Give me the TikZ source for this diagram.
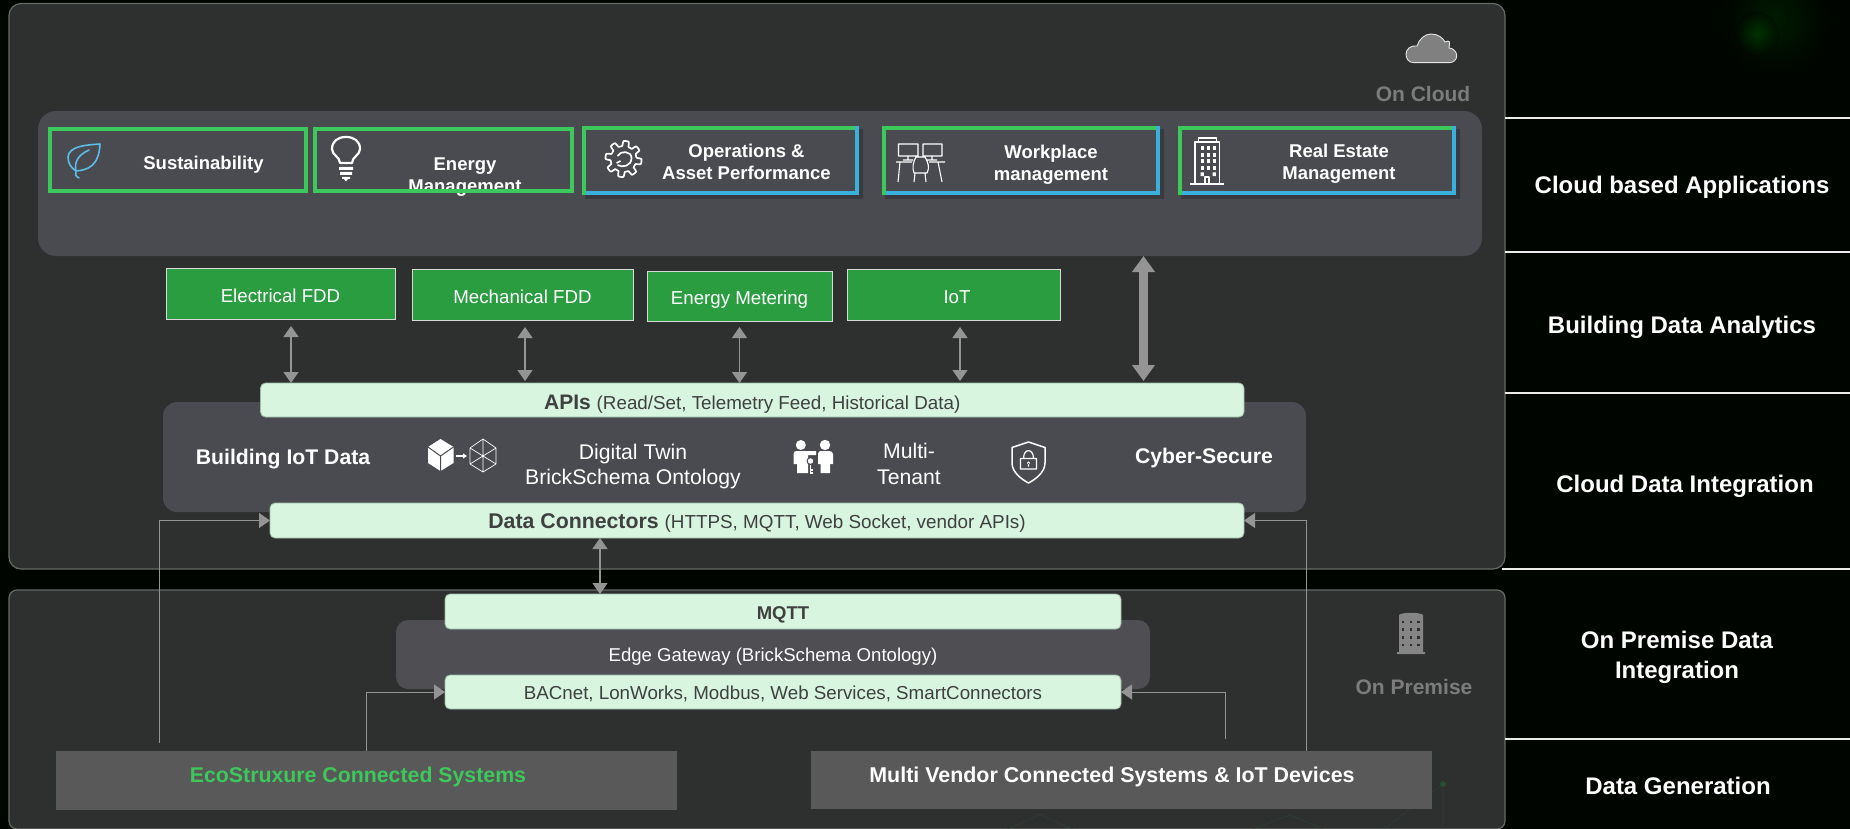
\documentclass[tikz,border=0pt]{standalone}
\usepackage{fontspec}
\setmainfont{Liberation Sans}
\usetikzlibrary{arrows.meta,calc}
\definecolor{bgc}{HTML}{000500}
\definecolor{panelc}{HTML}{2E2F2F}
\definecolor{panelb}{HTML}{686A6A}
\definecolor{appc}{HTML}{4A4B50}
\definecolor{edgec}{HTML}{4E4E53}
\definecolor{greenb}{HTML}{3CC85A}
\definecolor{blueb}{HTML}{3AB0DC}
\definecolor{fddc}{HTML}{2A9D41}
\definecolor{barc}{HTML}{D8F5DF}
\definecolor{bart}{HTML}{3F4040}
\definecolor{srcc}{HTML}{595959}
\definecolor{arrc}{HTML}{949494}
\definecolor{dimt}{HTML}{7C7C7C}
\definecolor{leafc}{HTML}{5BBDE8}
\definecolor{glowc}{HTML}{2C4A32}
\newcommand\fz[2]{\fontsize{#1}{#2}\selectfont}
% name, style, x0, y0, x1, y1, text
\newcommand\boxn[7]{\node[#2,minimum width={(#5-#3)*1pt},minimum height={(#6-#4)*1pt}] (#1) at ({(#3+#5)/2},{(#4+#6)/2}) {#7};}
\tikzset{
  x=1pt,y=-1pt,
  shapebox/.style={inner sep=0pt,outer sep=0pt,draw=none},
  panel/.style={shapebox,fill=panelc,draw=panelb,line width=1.2pt,rounded corners=12pt},
  appgroup/.style={shapebox,fill=appc,rounded corners=18pt},
  midgroup/.style={shapebox,fill=appc,rounded corners=14pt},
  edgegroup/.style={shapebox,fill=edgec,rounded corners=12pt},
  appbox/.style={shapebox,fill=appc},
  fdd/.style={shapebox,fill=fddc,draw=white!85!black,line width=1pt,text=white,font=\fz{18.7}{22},text height=17pt,text depth=0pt},
  bar/.style={shapebox,fill=barc,draw=black!25!barc,line width=.8pt,rounded corners=5pt,text=bart,text depth=0pt},
  src/.style={shapebox,fill=srcc},
  lbl/.style={inner sep=0pt,outer sep=0pt,align=center,text=white},
  applbl/.style={lbl,font=\fz{18.5}{22}\bfseries},
  sidelbl/.style={lbl,font=\fz{24}{29.5}\bfseries},
  midlbl/.style={lbl,font=\fz{21.2}{25.5}},
  midblbl/.style={lbl,font=\fz{21.2}{26}\bfseries},
  dimlbl/.style={lbl,text=dimt,font=\fz{21}{25}\bfseries},
  gb/.style={draw=greenb,line width=4pt},
  bb/.style={draw=blueb,line width=4pt},
  sep/.style={draw=white!92!black,line width=2pt},
  dblarr/.style={draw=arrc,line width=1.2pt,{Triangle[length=11pt,width=15pt]}-{Triangle[length=11pt,width=15pt]}},
  bigarr/.style={draw=arrc,line width=9pt,{Triangle[length=16pt,width=22pt]}-{Triangle[length=16pt,width=22pt]}},
  feed/.style={draw=arrc,line width=1pt,-{Triangle[length=11pt,width=15pt]}},
  iconw/.style={draw=white,line width=1.5pt,line join=round,fill=none},
  glow/.style={draw=glowc,line width=1pt,opacity=.45}
}
\begin{document}
\begin{tikzpicture}
\useasboundingbox (0,0) rectangle (1850,829);
\fill[bgc] (0,0) rectangle (1850,830);
\shade[inner color=green!30!black,outer color=bgc,opacity=.3] (1775,20) circle (55);
\shade[inner color=green!38!black,outer color=bgc,opacity=.4] (1757,34) circle (22);
% panels
\boxn{cloudp}{panel}{9}{3.5}{1505}{569}{}
\boxn{premp}{panel,rounded corners=8pt}{9}{590}{1505}{829}{}
% faint glow in the panel
\draw[glow] (1443,784) -- (1443,830) (1443,784) -- (1383,830);
\draw[glow] (1290,815) -- (1250,830) (1290,815) -- (1325,830) (1005,830) -- (1040,815) -- (1075,830);
\fill[glowc] (1443,784) circle (3);
% separators
\draw[sep] (1505,118.5) -- (1850,118.5);
\draw[sep] (1505,252) -- (1850,252);
\draw[sep] (1505,393) -- (1850,393);
\draw[sep] (1502,569) -- (1850,569);
\draw[sep] (1505,739) -- (1850,739);
% side labels
\node[sidelbl] (s1) at (1682,187.5) {Cloud based Applications};
\node[sidelbl] (s2) at (1682,327) {Building Data Analytics};
\node[sidelbl] (s3) at (1685,486) {Cloud Data Integration};
\node[sidelbl] (s4) at (1677,657.5) {On Premise Data\\Integration};
\node[sidelbl] (s5) at (1678,786) {Data Generation};
% application group
\boxn{appg}{appgroup}{38}{111}{1482}{256}{}
\fill[black,opacity=.22] (585,129) rectangle (863,199) (885,129) rectangle (1164,199) (1181,129) rectangle (1460,199);
\boxn{a1}{appbox}{47.5}{127}{307.5}{193}{}
\boxn{a2}{appbox}{313}{127}{574}{193}{}
\boxn{a3}{appbox}{582}{126}{859}{195}{}
\boxn{a4}{appbox}{882}{126}{1160}{195}{}
\boxn{a5}{appbox}{1178}{126}{1456}{195}{}
\node[applbl] (t1) at (203.5,165) {Sustainability};
\node[applbl] (t2a) at (465,166) {Energy};
\node[applbl] (t2b) at (465,188) {Management};
\node[applbl] (t3) at (746.5,161.5) {Operations \&\\Asset Performance};
\node[applbl] (t4) at (1051,165) {Workplace\\management};
\node[applbl] (t5) at (1339,164) {Real Estate\\Management};
\draw[gb] (49.5,129) rectangle (305.5,191);
\draw[gb] (315,129) rectangle (572,191);
\draw[gb] (584,195) -- (584,128) -- (857,128);
\draw[bb] (857,126) -- (857,195) (857,193) -- (586,193);
\draw[gb] (884,195) -- (884,128) -- (1158,128);
\draw[bb] (1158,126) -- (1158,195) (1158,193) -- (886,193);
\draw[gb] (1180,195) -- (1180,128) -- (1454,128);
\draw[bb] (1454,126) -- (1454,195) (1454,193) -- (1182,193);
% analytics
\boxn{fdd1}{fdd}{166}{268}{395}{319}{Electrical FDD}
\boxn{fdd2}{fdd}{412}{269}{633}{320}{Mechanical FDD}
\boxn{fdd3}{fdd}{647}{271}{832}{321}{Energy Metering}
\boxn{fdd4}{fdd}{847}{269}{1060}{320}{\hspace*{7pt}IoT}
% middle
\boxn{mid}{midgroup}{163}{402}{1306}{512}{}
\boxn{apis}{bar,text height=19pt}{260.5}{383}{1244}{417}{\fz{21}{25}\textbf{APIs} \fz{18.8}{25}(Read/Set, Telemetry Feed, Historical Data)}
\boxn{dc}{bar,text height=15pt}{270}{503}{1244}{538}{\fz{21.3}{25}\textbf{Data Connectors} \fz{18.85}{25}(HTTPS, MQTT, Web Socket, vendor APIs)}
\node[midblbl] (m1) at (283,459.5) {Building IoT Data};
\node[midlbl] (m2) at (633,466.5) {Digital Twin\\BrickSchema Ontology};
\node[midlbl] (m3) at (909,464) {Multi-\\Tenant};
\node[midblbl] (m4) at (1204,458) {Cyber-Secure};
% edge
\boxn{edge}{edgegroup}{396}{620}{1150}{689}{}
\boxn{mqtt}{bar,text height=15pt}{445}{594}{1121}{629}{\fz{18.5}{20}\bfseries MQTT}
\boxn{bac}{bar,text height=15.4pt}{445}{675}{1121}{709}{\fz{18.75}{22}BACnet, LonWorks, Modbus, Web Services, SmartConnectors}
\node[lbl,font=\fz{18.6}{22}] (eg) at (773,656.5) {Edge Gateway (BrickSchema Ontology)};
\boxn{eco}{src}{56}{751}{677}{810}{}
\boxn{multi}{src}{811}{751}{1432}{809}{}
\node[lbl,text=greenb,font=\fz{21.3}{25}\bfseries] (ecot) at (358,777) {EcoStruxure Connected Systems};
\node[lbl,font=\fz{21.4}{25}\bfseries] (multit) at (1112,777) {Multi Vendor Connected Systems \& IoT Devices};
\node[dimlbl] (oncl) at (1423,94) {On Cloud};
\node[dimlbl] (onpr) at (1414,686.5) {On Premise};
% connectors
\draw[dblarr,shorten <=7pt] ([xshift=10.5pt]fdd1.south) -- ([xshift=10.5pt]fdd1.south |- apis.north);
\draw[dblarr,shorten <=7pt,shorten >=2pt] ([xshift=2.5pt]fdd2.south) -- ([xshift=2.5pt]fdd2.south |- apis.north);
\draw[dblarr,shorten <=6pt] (fdd3.south) -- (fdd3.south |- apis.north);
\draw[dblarr,shorten <=7pt,shorten >=2pt] ([xshift=6.5pt]fdd4.south) -- ([xshift=6.5pt]fdd4.south |- apis.north);
\draw[bigarr,shorten >=2pt] (appg.south -| 1143.5,0) -- (apis.north -| 1143.5,0);
\draw[dblarr] (dc.south -| 600,0) -- (mqtt.north -| 600,0);
\coordinate (ecoA) at (159.5,743);
\coordinate (mvA) at (1306,751);
\coordinate (ecoB) at (366,751);
\coordinate (mvB) at (1225,739);
\draw[feed] (ecoA) |- (dc.west);
\draw[feed] (mvA) |- (dc.east);
\draw[feed] (ecoB) |- (bac.west);
\draw[feed] (mvB) |- (bac.east);
% leaf
\draw[draw=leafc,line width=1.6pt,line join=round,line cap=round] (100,144) .. controls (86,145) and (69,146) .. (68,157) .. controls (68,163) and (71,168) .. (76,171) .. controls (88,170) and (99,166) .. (100,144) (76,171) .. controls (75,174) and (75,176) .. (79,178) (76,171) .. controls (74,162) and (78,155) .. (89,150);
% bulb
\draw[draw=white,line width=2.2pt,line join=round] (340,163) .. controls (340,157) and (332,155) .. (332,149) .. controls (332,141) and (338,137) .. (346,137) .. controls (354,137) and (360,141) .. (360,149) .. controls (360,155) and (352,157) .. (352,163) -- cycle;
\fill[white] (339,167) rectangle (353,170) (340,172) rectangle (352,175) (342,177) rectangle (350,179) (344,179) -- (348,179) -- (346,181.5) -- cycle;
% gear
\begin{scope}[shift={(623.5,159)}]
\draw[iconw,line width=1.7pt] plot[domain=0:360,samples=145] ({(15.5+2.6*tanh(4*sin(8*\x+22)))*cos(\x)},{(15.5+2.6*tanh(4*sin(8*\x+22)))*sin(\x)}) -- cycle;
\draw[iconw,line width=1.7pt] (-7,4) -- (-3,2) (-6,6) .. controls (-1,9) and (8,7) .. (8,-1) .. controls (8,-8) and (-3,-9) .. (-6,-3);
\end{scope}
% desks
\draw[iconw,line width=1.1pt] (898.5,144) rectangle (918,156) (923,144) rectangle (942,156)
 (908,156) -- (908,160) (903,160) -- (913,160) (932,156) -- (932,160) (927,160) -- (937,160)
 (896,162) -- (912,162) (929,162) -- (945,162) (900,162) -- (898,182) (938,162) -- (942,182)
 (916,157) .. controls (913,162) and (912,168) .. (914,173) -- (927,173) .. controls (930,168) and (928,162) .. (925,157) -- cycle
 (915,173) -- (914,182) (925,173) -- (926,182);
% real estate building
\draw[iconw,line width=1.1pt] (1195,184) -- (1195,142) -- (1219.5,142) -- (1219.5,184) (1198.5,142) -- (1198.5,138) -- (1216.5,138) -- (1216.5,142) (1190,184) -- (1224,184) (1205,184) -- (1205,177) -- (1209,177) -- (1209,184);
\foreach \cx in {1200.5,1206.5,1212.5} \foreach \cy in {146.5,153,159.5,166} \fill[white] (\cx,\cy) rectangle ++(3.4,3.6);
\fill[white] (1200.5,172.5) rectangle ++(3.4,3.6) (1212.5,172.5) rectangle ++(3.4,3.6);
% cloud
\draw[fill=black!50,draw=white!90!black,line width=.9pt] (1414,62.7) .. controls (1408,62.7) and (1406,58) .. (1406,54) .. controls (1406,49) and (1411,45) .. (1417,46) .. controls (1419,39) and (1425,34) .. (1431,34) .. controls (1438,34) and (1443,38) .. (1445,42) .. controls (1450,40) and (1450,41) .. (1449,48) .. controls (1453,48) and (1457,52) .. (1456.7,56) .. controls (1456.7,60) and (1453,62.7) .. (1449,62.7) -- cycle;
% cube
\fill[white] (440.5,439) -- (453.5,447) -- (453.5,463) -- (440.5,471) -- (428,463) -- (428,447) -- cycle;
\draw[draw=appc,line width=1pt] (428,447) -- (440.5,456) -- (453.5,447) (440.5,456) -- (440.5,471);
\draw[draw=white,line width=1.5pt,-{Triangle[length=4pt,width=5pt]}] (456,456) -- (467,456);
\draw[iconw,line width=.7pt] (483,439) -- (496,448) -- (496,464) -- (483,472) -- (470,464) -- (470,448) -- cycle (483,439) -- (483,472) (470,448) -- (496,464) (496,448) -- (470,464);
% people
\fill[white] (800.8,445) circle (5) (825,445) circle (5.2);
\fill[white] (793.5,464) -- (793.5,454) .. controls (793.5,451.5) and (795,451) .. (797,451) -- (816,451) -- (816,455) -- (808,455) -- (808,473) -- (797,473) -- (797,464) -- cycle;
\fill[white] (818,464) -- (818,454) .. controls (818,451.5) and (820,451) .. (821,451) -- (829,451) .. controls (831,451) and (833,452) .. (833,454) -- (833,464) -- (830,464) -- (830,473) -- (820.5,473) -- (820.5,464) -- cycle;
\draw[draw=appc,fill=white,line width=1pt] (810.5,461) circle (3.4);
\draw[draw=white,line width=1.3pt] (810.5,464.5) -- (810.5,474) (810.5,470) -- (813,470) (810.5,473) -- (813,473);
% shield
\draw[iconw] (1028.5,442) -- (1045,447.5) -- (1045,463) .. controls (1045,472) and (1036,479) .. (1028.5,483) .. controls (1021,479) and (1012,472) .. (1012,463) -- (1012,447.5) -- cycle;
\draw[iconw,line width=1.2pt] (1020.5,458.5) rectangle (1036.5,469) (1023.5,458.5) .. controls (1023.5,448) and (1033.5,448) .. (1033.5,458.5);
\fill[white] (1028.5,463) circle (1.7) (1027.8,463) rectangle (1029.2,466.5);
% on-premise building
\fill[black!48] (1399,652) -- (1399,615) .. controls (1402,612) and (1420,612) .. (1423,615) -- (1423,652) -- (1425,652) -- (1425,654) -- (1397,654) -- (1397,652) -- cycle;
\foreach \cx in {1402.7,1410.7,1418.3} \foreach \cy in {621.7,629.3,637.3,645} \fill[panelc] (\cx-1,\cy-1) rectangle ++(2.2,2.2);
\end{tikzpicture}
\end{document}
